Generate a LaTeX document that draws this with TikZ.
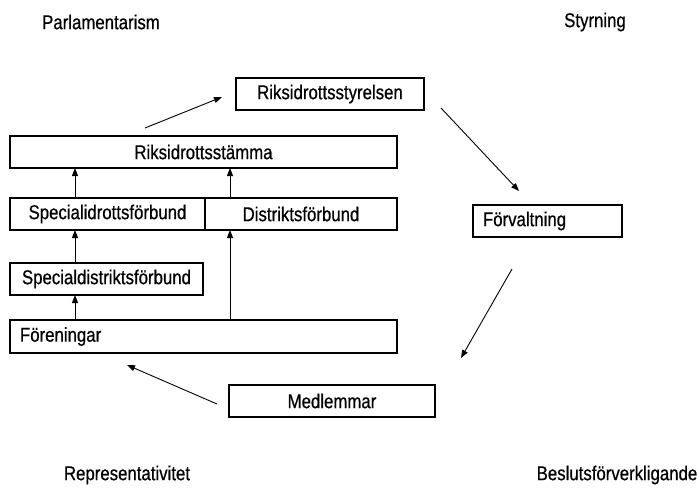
\documentclass[tikz,border=0pt]{standalone}
\usepackage{fontspec}
\setmainfont{Liberation Sans}[FakeStretch=0.84,FakeBold=0.6]
\usetikzlibrary{arrows.meta}
\begin{document}
\begin{tikzpicture}[x=1pt,y=-1pt,
  every node/.style={font=\fontsize{20}{23}\selectfont},
  box/.style={draw,line width=1.3pt,minimum height=32pt,inner sep=0pt,outer sep=0pt},
  lbox/.style={box,align=left,inner xsep=10pt,text width=#1-20pt},
  lbl/.style={inner sep=0pt},
  arr/.style={line width=1pt,-{Triangle[length=8pt,width=6pt]}},
  thin arr/.style={line width=0.9pt,-{Triangle[length=8pt,width=6pt]}}]
\useasboundingbox (0,0) rectangle (697,488);

% corner labels
\node[lbl] (parl) at (101,22) {Parlamentarism};
\node[lbl] (styrn) at (595,22) {Styrning};
\node[lbl] (repr) at (127,475) {Representativitet};
\node[lbl] (besl) at (617,475) {Beslutsförverkligande};

% organisation boxes
\node[box,minimum width=188pt] (styr) at (330,94) {Riksidrottsstyrelsen};
\node[box,minimum width=387pt] (stamma) at (203.5,152) {Riksidrottsstämma};
\node[box,minimum width=195pt] (spid) at (107.5,214) {Specialidrottsförbund};
\node[box,minimum width=192pt] (dist) at (301,214) {Distriktsförbund};
\node[box,minimum width=193pt] (spdist) at (106.5,279) {Specialdistriktsförbund};
\node[lbox=387pt,minimum height=33pt] (foren) at (203.5,336.5) {Föreningar};
\node[box,minimum width=206pt] (medl) at (332,401) {Medlemmar};
\node[lbox=149pt] (forv) at (547.5,221) {Förvaltning};

% upward links between levels
\draw[arr] ([xshift=65pt]spid.north west) -- ([xshift=65pt]stamma.south west);
\draw[arr] ([xshift=25pt]dist.north west) -- ([xshift=25pt]dist.north west |- stamma.south);
\draw[arr] ([xshift=65pt]spdist.north west) -- ([xshift=65pt]spid.south west);
\draw[arr] ([xshift=65pt]foren.north west) -- ([xshift=65pt]spdist.south west);
\draw[arr] ([xshift=220pt]foren.north west) -- ([xshift=25pt]dist.south west);

% cycle arrows
\coordinate (c1a) at (145,128); \coordinate (c1b) at (222,97);
\coordinate (c2a) at (441,108); \coordinate (c2b) at (519,191);
\coordinate (c3a) at (512,269); \coordinate (c3b) at (461,358);
\coordinate (c4a) at (217,404); \coordinate (c4b) at (127,365);
\draw[thin arr] (c1a) -- (c1b);
\draw[thin arr] (c2a) -- (c2b);
\draw[thin arr] (c3a) -- (c3b);
\draw[thin arr] (c4a) -- (c4b);
\end{tikzpicture}
\end{document}
